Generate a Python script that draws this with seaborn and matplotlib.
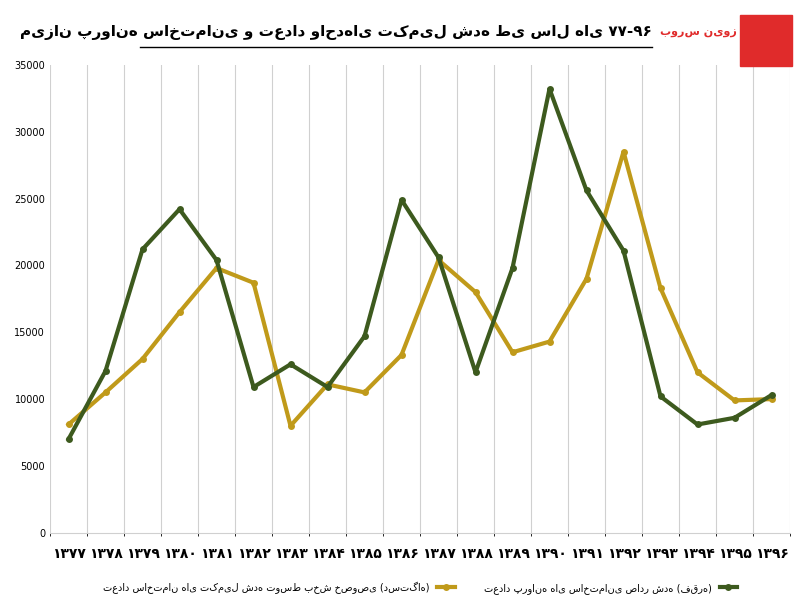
import matplotlib
matplotlib.use("Agg")
import matplotlib.pyplot as plt
import seaborn as sns
import pandas as pd
from matplotlib.patches import Rectangle

# ---- data ----
years = ["۱۳۷۷", "۱۳۷۸", "۱۳۷۹", "۱۳۸۰", "۱۳۸۱", "۱۳۸۲", "۱۳۸۳", "۱۳۸۴", "۱۳۸۵", "۱۳۸۶",
         "۱۳۸۷", "۱۳۸۸", "۱۳۸۹", "۱۳۹۰", "۱۳۹۱", "۱۳۹۲", "۱۳۹۳", "۱۳۹۴", "۱۳۹۵", "۱۳۹۶"]
permits = [7000, 12100, 21200, 24200, 20400, 10900, 12600, 10900, 14700, 24900,
           20600, 12000, 19800, 33200, 25600, 21100, 10200, 8100, 8600, 10300]
completed = [8100, 10500, 13000, 16500, 19800, 18700, 8000, 11100, 10500, 13300,
             20400, 18000, 13500, 14300, 19000, 28500, 18300, 12000, 9900, 10000]
label_permits = "تعداد پروانه های ساختمانی صادر شده (فقره)"
label_completed = "تعداد ساختمان های تکمیل شده توسط بخش خصوصی (دستگاه)"
title = "میزان پروانه ساختمانی و تعداد واحدهای تکمیل شده طی سال های ۷۷-۹۶"

df = pd.DataFrame({"x": list(range(len(years))), "permits": permits, "completed": completed})

fig = plt.figure(figsize=(8, 6), dpi=100)
ax = fig.add_axes([0.0625, 0.112, 0.925, 0.78])
sns.lineplot(data=df, x="x", y="completed", ax=ax, color="#C09A1A", lw=3,
             marker="o", markersize=5, markeredgewidth=0, label=label_completed)
sns.lineplot(data=df, x="x", y="permits", ax=ax, color="#3D5A1E", lw=3,
             marker="o", markersize=5, markeredgewidth=0, label=label_permits)

ax.set_xlim(-0.5, len(years) - 0.5)
ax.set_ylim(0, 35000)
ax.set_yticks(range(0, 35001, 5000))
ax.set_xticks(range(len(years)))
ax.set_xticklabels(years, fontsize=10, fontweight="bold", family="DejaVu Sans")
ax.tick_params(axis="y", labelsize=7, length=0)
ax.tick_params(axis="x", length=0, pad=10)
ax.set_xlabel("")
ax.set_ylabel("")
ax.set_xticks([i + 0.5 for i in range(-1, len(years))], minor=True)
ax.grid(True, axis="x", which="minor", color="#d0d0d0", lw=0.8)
ax.grid(False, axis="y")
ax.grid(False, axis="x", which="major")
for s in ["top", "right", "left"]:
    ax.spines[s].set_visible(False)
ax.spines["bottom"].set_color("#d0d0d0")

ax.legend(loc="upper center", bbox_to_anchor=(0.5, -0.085), markerfirst=False,
          ncol=2, frameon=False, fontsize=7, handlelength=1.8, columnspacing=3)

fig.text(0.815, 0.945, title, ha="right", va="center", fontsize=11, fontweight="bold")
fig.add_artist(plt.Line2D([0.175, 0.815], [0.922, 0.922], color="black", lw=1))
fig.add_artist(Rectangle((0.925, 0.89), 0.065, 0.085, color="#E02B2B"))
fig.text(0.873, 0.945, "بورس نیوز", ha="center", va="center", fontsize=8,
         color="#E02B2B", fontweight="bold")

fig.savefig("out.png", dpi=100)
